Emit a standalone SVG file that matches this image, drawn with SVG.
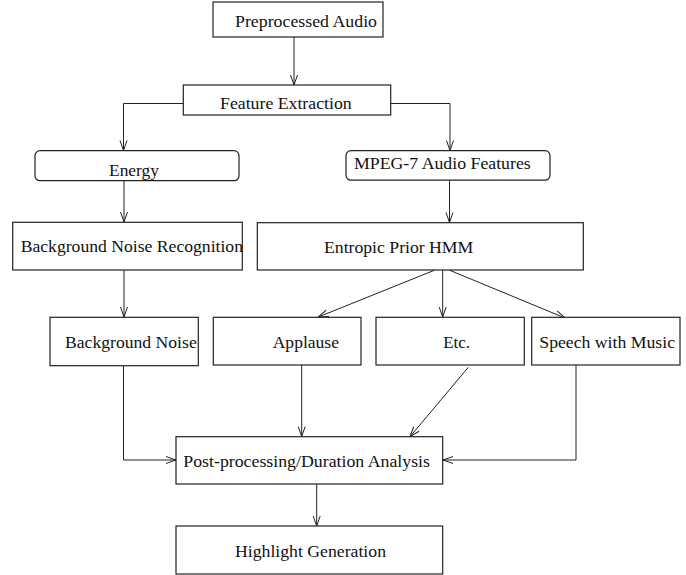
<svg xmlns="http://www.w3.org/2000/svg" width="686" height="575" viewBox="0 0 686 575">
<style>
.box{fill:#fff;stroke:#222;stroke-width:1.2}
.lbl{font-family:"Liberation Serif","Times New Roman",serif;font-size:16px;fill:#111}
.con{fill:none;stroke:#222;stroke-width:1}
</style>
<defs>
<marker id="arr" markerUnits="userSpaceOnUse" markerWidth="14" markerHeight="12" viewBox="-12 -6 14 12" refX="0" refY="0" orient="auto">
<path d="M-10,-3.5 L0,0 L-10,3.5" fill="none" stroke="#222" stroke-width="1"/>
</marker>
</defs>
<rect width="686" height="575" fill="#fff"/>
<g id="connectors">
<path class="con" d="M294,37 V85" marker-end="url(#arr)"/>
<path class="con" d="M183,103.5 H123.5 V150.5" marker-end="url(#arr)"/>
<path class="con" d="M391,103.5 H450 V150.5" marker-end="url(#arr)"/>
<path class="con" d="M124,181 V222" marker-end="url(#arr)"/>
<path class="con" d="M449.5,180 V222.5" marker-end="url(#arr)"/>
<path class="con" d="M124,270 V317" marker-end="url(#arr)"/>
<path class="con" d="M435,270 L318.3,317" marker-end="url(#arr)"/>
<path class="con" d="M442.7,270 V317" marker-end="url(#arr)"/>
<path class="con" d="M449,270 L565,318" marker-end="url(#arr)"/>
<path class="con" d="M123.5,366 V460 H176" marker-end="url(#arr)"/>
<path class="con" d="M301.7,365 V436.5" marker-end="url(#arr)"/>
<path class="con" d="M468.3,367.3 L410,436.7" marker-end="url(#arr)"/>
<path class="con" d="M576,365 V460 H443" marker-end="url(#arr)"/>
<path class="con" d="M316.7,484 V526" marker-end="url(#arr)"/>
</g>
<g id="preprocessed">
<rect class="box" x="213" y="2" width="170" height="35"/>
<text class="lbl" x="235" y="26.7" textLength="142" lengthAdjust="spacingAndGlyphs">Preprocessed Audio</text>
</g>
<g id="feature">
<rect class="box" x="183.3" y="85" width="207.4" height="30"/>
<text class="lbl" x="220" y="109.3" textLength="131.7" lengthAdjust="spacingAndGlyphs">Feature Extraction</text>
</g>
<g id="energy">
<rect class="box" x="35" y="150.7" width="204" height="30" rx="5"/>
<text class="lbl" x="109" y="175.5" textLength="50" lengthAdjust="spacingAndGlyphs">Energy</text>
</g>
<g id="mpeg7">
<rect class="box" x="346" y="150.7" width="204" height="29.5" rx="5"/>
<text class="lbl" x="354" y="169" textLength="176.7" lengthAdjust="spacingAndGlyphs">MPEG-7 Audio Features</text>
</g>
<g id="bnr">
<rect class="box" x="12.7" y="222.3" width="229.6" height="47.7"/>
<text class="lbl" x="20.7" y="252.3" textLength="222.3" lengthAdjust="spacingAndGlyphs">Background Noise Recognition</text>
</g>
<g id="entropic">
<rect class="box" x="257.3" y="222.7" width="326" height="47.3"/>
<text class="lbl" x="324" y="252.7" textLength="149.3" lengthAdjust="spacingAndGlyphs">Entropic Prior HMM</text>
</g>
<g id="bn">
<rect class="box" x="50" y="317.3" width="148.3" height="48.4"/>
<text class="lbl" x="65" y="348.3" textLength="131.7" lengthAdjust="spacingAndGlyphs">Background Noise</text>
</g>
<g id="applause">
<rect class="box" x="213.3" y="317.3" width="147.7" height="47.7"/>
<text class="lbl" x="272.7" y="348.3" textLength="66.3" lengthAdjust="spacingAndGlyphs">Applause</text>
</g>
<g id="etc">
<rect class="box" x="376" y="317.3" width="148.3" height="47.7"/>
<text class="lbl" x="443.3" y="348.3" textLength="26.7" lengthAdjust="spacingAndGlyphs">Etc.</text>
</g>
<g id="speech">
<rect class="box" x="531.7" y="317.3" width="148.3" height="47.7"/>
<text class="lbl" x="539.3" y="348.3" textLength="135.7" lengthAdjust="spacingAndGlyphs">Speech with Music</text>
</g>
<g id="post">
<rect class="box" x="176" y="436.7" width="266.7" height="47.3"/>
<text class="lbl" x="183.3" y="467.3" textLength="246.7" lengthAdjust="spacingAndGlyphs">Post-processing/Duration Analysis</text>
</g>
<g id="highlight">
<rect class="box" x="176" y="526" width="266.7" height="48"/>
<text class="lbl" x="235" y="556.7" textLength="151" lengthAdjust="spacingAndGlyphs">Highlight Generation</text>
</g>
</svg>
